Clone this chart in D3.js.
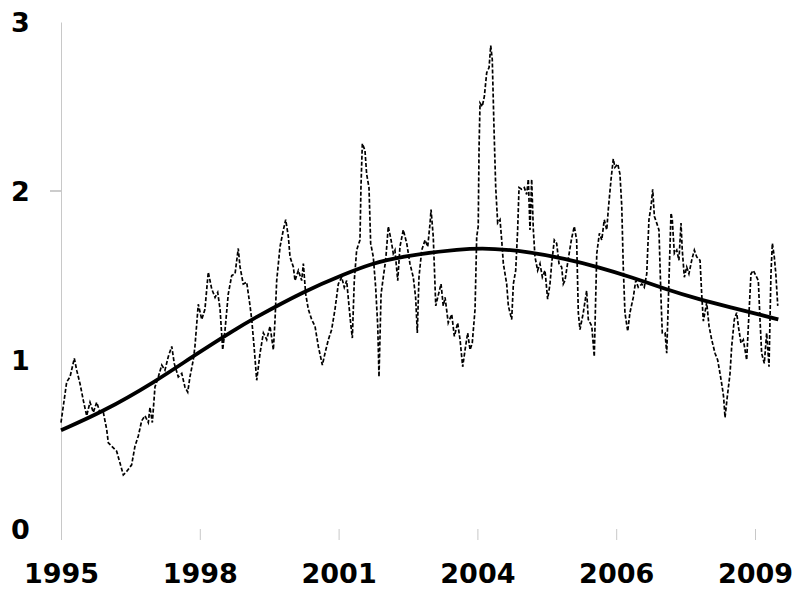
<!DOCTYPE html>
<html lang="en">
<head>
    <meta charset="UTF-8"/>
    <title>Series with trend line, 1995-2009</title>
    <script src="https://d3js.org/d3.v7.min.js"></script>
    <style>
        body { margin: 0; background: #fff; }
        text { font-family: "DejaVu Sans", sans-serif; font-weight: bold; }
    </style>
</head>
<body>
    <div id="chart"></div>

    <script>
        // tick labels along the bottom (evenly spaced, one unit apart)
        const xTickLabels = ["1995", "1998", "2001", "2004", "2006", "2009"];
        const yTicks = [0, 1, 2, 3];

        // raw series: position in tick units
        const seriesPos = [
            0.000, 0.041, 0.065, 0.096, 0.113, 0.137, 0.161, 0.185, 0.209, 0.233,
            0.257, 0.281, 0.305, 0.329, 0.341, 0.365, 0.401, 0.425, 0.449, 0.473,
            0.509, 0.533, 0.557, 0.581, 0.605, 0.629, 0.641, 0.658, 0.677, 0.701,
            0.726, 0.749, 0.773, 0.798, 0.816, 0.845, 0.870, 0.893, 0.913, 0.929,
            0.953, 0.965, 0.989, 1.014, 1.037, 1.061, 1.086, 1.110, 1.129, 1.146,
            1.165, 1.182, 1.205, 1.230, 1.254, 1.277, 1.290, 1.313, 1.338, 1.362,
            1.374, 1.393, 1.410, 1.434, 1.458, 1.482, 1.506, 1.530, 1.542, 1.554,
            1.578, 1.602, 1.619, 1.638, 1.650, 1.674, 1.686, 1.710, 1.734, 1.746,
            1.763, 1.782, 1.806, 1.830, 1.854, 1.883, 1.902, 1.926, 1.950, 1.974,
            1.998, 2.022, 2.041, 2.058, 2.075, 2.089, 2.099, 2.113, 2.130, 2.154,
            2.161, 2.171, 2.190, 2.202, 2.219, 2.231, 2.250, 2.267, 2.282, 2.291,
            2.306, 2.322, 2.339, 2.358, 2.378, 2.394, 2.406, 2.426, 2.442, 2.466,
            2.491, 2.514, 2.538, 2.555, 2.567, 2.579, 2.599, 2.623, 2.642, 2.659,
            2.666, 2.682, 2.689, 2.700, 2.714, 2.738, 2.754, 2.767, 2.790, 2.815,
            2.834, 2.858, 2.875, 2.894, 2.911, 2.930, 2.947, 2.963, 2.983, 2.995,
            3.006, 3.012, 3.019, 3.035, 3.050, 3.067, 3.084, 3.096, 3.107, 3.120,
            3.132, 3.146, 3.163, 3.175, 3.187, 3.211, 3.223, 3.247, 3.259, 3.276,
            3.290, 3.300, 3.319, 3.338, 3.355, 3.367, 3.379, 3.391, 3.403, 3.415,
            3.434, 3.451, 3.468, 3.487, 3.506, 3.523, 3.535, 3.554, 3.571, 3.588,
            3.607, 3.619, 3.631, 3.655, 3.679, 3.698, 3.715, 3.727, 3.739, 3.763,
            3.787, 3.799, 3.824, 3.842, 3.860, 3.879, 3.896, 3.914, 3.932, 3.943,
            3.963, 3.979, 3.991, 4.011, 4.027, 4.040, 4.051, 4.063, 4.083, 4.099,
            4.123, 4.141, 4.159, 4.184, 4.202, 4.220, 4.236, 4.251, 4.263, 4.275,
            4.292, 4.308, 4.323, 4.332, 4.352, 4.364, 4.380, 4.395, 4.404, 4.419,
            4.436, 4.452, 4.467, 4.476, 4.491, 4.508, 4.524, 4.544, 4.563, 4.580,
            4.604, 4.616, 4.628, 4.652, 4.669, 4.688, 4.712, 4.731, 4.748, 4.764,
            4.774, 4.784, 4.800, 4.820, 4.832, 4.851, 4.868, 4.880, 4.899, 4.916,
            4.940, 4.952, 4.971, 4.988, 5.012, 5.024, 5.036, 5.048, 5.067, 5.084,
            5.101, 5.115, 5.125, 5.139, 5.150, 5.164
        ];
        const seriesVal = [
            0.63, 0.87, 0.90, 1.01, 0.94, 0.86, 0.76, 0.67, 0.75, 0.69,
            0.75, 0.69, 0.69, 0.59, 0.51, 0.49, 0.46, 0.39, 0.32, 0.34,
            0.38, 0.49, 0.55, 0.64, 0.67, 0.63, 0.72, 0.63, 0.84, 0.90,
            0.97, 0.94, 1.02, 1.08, 0.98, 0.90, 0.92, 0.84, 0.81, 0.90,
            1.00, 1.08, 1.33, 1.24, 1.30, 1.52, 1.42, 1.37, 1.40, 1.30,
            1.06, 1.18, 1.39, 1.50, 1.51, 1.66, 1.55, 1.45, 1.46, 1.32,
            1.24, 1.06, 0.88, 1.04, 1.16, 1.12, 1.20, 1.06, 1.24, 1.47,
            1.67, 1.77, 1.83, 1.73, 1.61, 1.55, 1.47, 1.53, 1.47, 1.57,
            1.39, 1.30, 1.24, 1.20, 1.08, 0.97, 1.04, 1.12, 1.18, 1.30,
            1.45, 1.49, 1.43, 1.47, 1.32, 1.20, 1.13, 1.47, 1.65, 1.71,
            2.02, 2.28, 2.24, 2.10, 2.02, 1.69, 1.61, 1.43, 1.20, 0.90,
            1.39, 1.49, 1.59, 1.79, 1.71, 1.63, 1.65, 1.47, 1.67, 1.77,
            1.69, 1.57, 1.49, 1.37, 1.16, 1.49, 1.65, 1.71, 1.67, 1.81,
            1.89, 1.73, 1.57, 1.32, 1.37, 1.45, 1.32, 1.37, 1.22, 1.27,
            1.14, 1.22, 1.12, 0.96, 1.06, 1.16, 1.06, 1.10, 1.30, 1.73,
            1.79, 2.26, 2.52, 2.50, 2.56, 2.70, 2.73, 2.86, 2.78, 2.36,
            2.02, 1.81, 1.83, 1.71, 1.57, 1.45, 1.32, 1.24, 1.45, 1.53,
            1.77, 2.02, 2.01, 2.02, 1.98, 2.07, 1.77, 2.07, 1.77, 1.61,
            1.53, 1.57, 1.49, 1.53, 1.36, 1.45, 1.57, 1.71, 1.69, 1.57,
            1.55, 1.45, 1.47, 1.60, 1.72, 1.79, 1.71, 1.28, 1.18, 1.28,
            1.41, 1.24, 1.20, 1.02, 1.63, 1.75, 1.71, 1.83, 1.77, 1.89,
            2.07, 2.19, 2.14, 2.16, 2.10, 1.91, 1.55, 1.28, 1.17, 1.28,
            1.37, 1.47, 1.43, 1.45, 1.43, 1.51, 1.83, 1.91, 2.01, 1.85,
            1.81, 1.77, 1.36, 1.16, 1.16, 1.04, 1.47, 1.87, 1.83, 1.63,
            1.65, 1.59, 1.81, 1.65, 1.49, 1.55, 1.51, 1.59, 1.65, 1.61,
            1.59, 1.39, 1.23, 1.34, 1.20, 1.12, 1.04, 1.00, 0.92, 0.84,
            0.78, 0.66, 0.78, 0.92, 1.08, 1.24, 1.28, 1.20, 1.10, 1.12,
            1.00, 1.20, 1.51, 1.53, 1.49, 1.47, 1.24, 1.04, 0.98, 1.16,
            0.96, 1.51, 1.69, 1.61, 1.51, 1.32
        ];

        // smooth trend line, read at a few points
        const trendPos = [0, 0.293, 0.677, 0.965, 1.254, 1.374, 1.758, 2.046, 2.239, 2.430,
                          2.887, 3.127, 3.365, 3.631, 3.871, 4.112, 4.352, 4.592, 4.832, 5.072, 5.168];
        const trendVal = [0.585, 0.69, 0.87, 1.03, 1.18, 1.24, 1.41, 1.51, 1.57, 1.61,
                          1.66, 1.66, 1.64, 1.60, 1.55, 1.49, 1.42, 1.36, 1.31, 1.26, 1.24];

        const series = seriesPos.map((p, i) => ({ p: p, v: seriesVal[i] }));
        const trend = trendPos.map((p, i) => ({ p: p, v: trendVal[i] }));

        // Set up the chart dimensions
        const w = 796;
        const h = 592;
        const margin = { top: 22, right: 41, bottom: 63, left: 61 };

        const svg = d3.select("#chart")
            .append("svg")
            .attr("width", w)
            .attr("height", h);

        const x = d3.scaleLinear()
            .domain([0, xTickLabels.length - 1])
            .range([margin.left, w - margin.right]);

        const y = d3.scaleLinear()
            .domain([0, 3])
            .range([h - margin.bottom, margin.top]);

        // Y axis: light grey line, big bold labels on the far left
        const yAxis = svg.append("g")
            .attr("transform", `translate(${margin.left},0)`)
            .call(d3.axisLeft(y).tickValues(yTicks).tickSize(0).tickFormat(""));
        yAxis.select(".domain").attr("stroke", "#c8c8c8");

        svg.append("line")
            .attr("x1", margin.left - 11)
            .attr("x2", margin.left)
            .attr("y1", y(2))
            .attr("y2", y(2))
            .attr("stroke", "#999");

        svg.selectAll(".y-label")
            .data(yTicks)
            .enter()
            .append("text")
            .attr("class", "y-label")
            .attr("x", 20.5)
            .attr("y", d => y(d))
            .attr("dy", "0.36em")
            .attr("text-anchor", "middle")
            .attr("font-size", "27px")
            .attr("fill", "#000")
            .text(d => d);

        // X axis: no baseline, short grey ticks
        const xAxis = svg.append("g")
            .attr("transform", `translate(0,${y(0)})`)
            .call(d3.axisBottom(x)
                .tickValues(d3.range(xTickLabels.length))
                .tickSize(11)
                .tickPadding(24)
                .tickFormat(i => xTickLabels[i]));
        xAxis.select(".domain").remove();
        xAxis.selectAll(".tick line").attr("stroke", "#c8c8c8");
        xAxis.selectAll(".tick text")
            .attr("font-size", "27px")
            .attr("font-family", "DejaVu Sans, sans-serif")
            .attr("font-weight", "bold")
            .attr("fill", "#000");

        // dashed raw series
        svg.append("path")
            .datum(series)
            .attr("fill", "none")
            .attr("stroke", "#000")
            .attr("stroke-width", 1.7)
            .attr("stroke-dasharray", "4,2")
            .attr("d", d3.line().x(d => x(d.p)).y(d => y(d.v)));

        // thick trend line
        svg.append("path")
            .datum(trend)
            .attr("fill", "none")
            .attr("stroke", "#000")
            .attr("stroke-width", 3.8)
            .attr("d", d3.line().curve(d3.curveBasis).x(d => x(d.p)).y(d => y(d.v)));
    </script>
</body>
</html>
